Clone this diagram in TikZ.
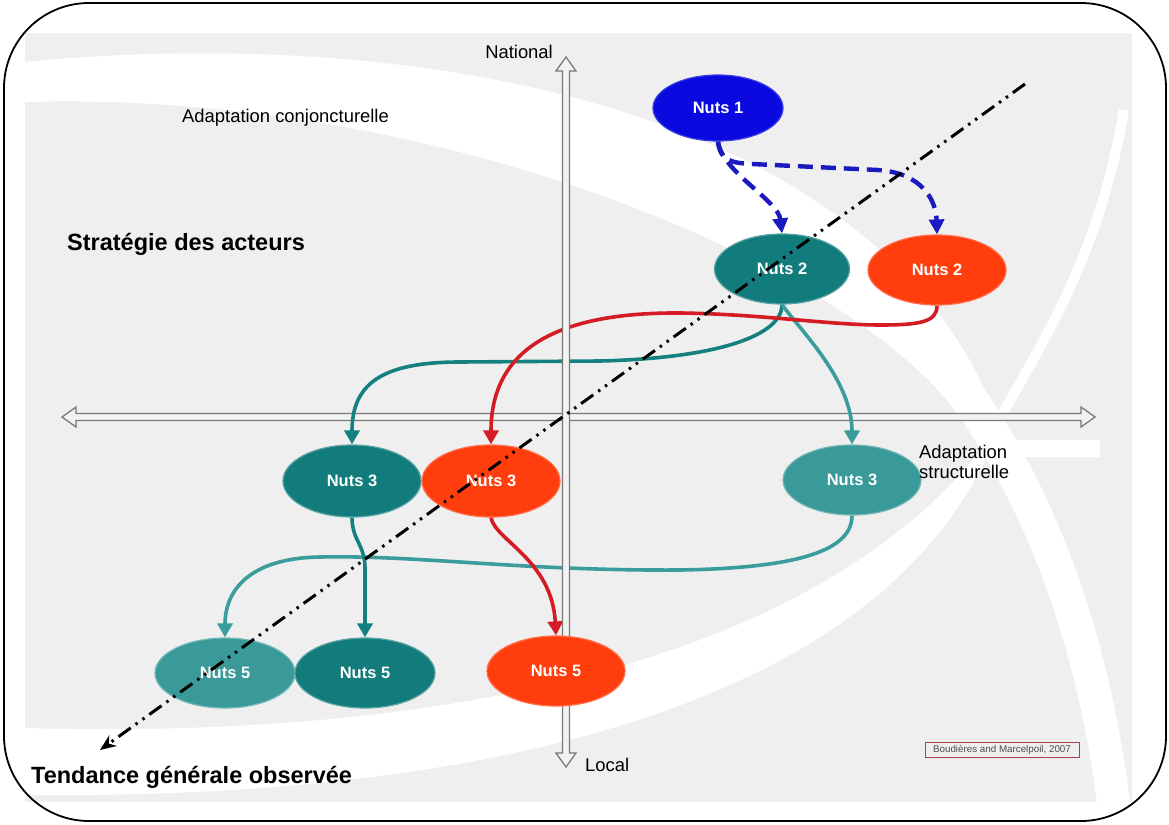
\documentclass[tikz,border=0pt]{standalone}
\usepackage{fontspec}
\setmainfont{Liberation Sans}
\usetikzlibrary{shapes.geometric,arrows.meta}

\definecolor{bggray}{HTML}{EFEFEF}
\definecolor{axisgray}{HTML}{7A7A7A}
\definecolor{axisfill}{HTML}{F2F2F2}
\definecolor{tealD}{HTML}{127C7C}
\definecolor{tealL}{HTML}{3A9999}
\definecolor{orng}{HTML}{FF3D0D}
\definecolor{blu}{HTML}{0A0AE0}
\definecolor{bluline}{HTML}{1A1AC0}
\definecolor{redline}{HTML}{D41C24}
\definecolor{tealline}{HTML}{14807F}
\definecolor{teallineL}{HTML}{3A9C9B}
\definecolor{refbox}{HTML}{B04050}

\pgfdeclarelayer{back}
\pgfdeclarelayer{haxis}
\pgfdeclarelayer{links}
\pgfdeclarelayer{vaxis}
\pgfdeclarelayer{front}
\pgfsetlayers{back,haxis,links,vaxis,main,front}

\begin{document}
\begin{tikzpicture}[x=1pt,y=-1pt,
  nuts/.style={ellipse, minimum width=138pt, minimum height=70pt, inner sep=0pt,
    text=white, font=\bfseries\fontsize{16.5}{18}\selectfont, line width=1.2pt},
  tealnode/.style={nuts, fill=tealD, draw=tealD!70!white},
  teallight/.style={nuts, fill=tealL, draw=tealL!70!white},
  orangenode/.style={nuts, fill=orng, draw=orng!75!white},
  bluenode/.style={nuts, fill=blu, draw=blu!80!white},
  lbl/.style={inner sep=0pt, font=\fontsize{18.4}{20}\selectfont},
  title/.style={inner sep=0pt, font=\bfseries\fontsize{23.5}{26}\selectfont},
  link/.style={line width=3.6pt, -{Triangle[length=14pt,width=15pt]}},
  teallink/.style={link, tealline},
  teallinkL/.style={link, teallineL},
  redlink/.style={link, redline},
  bluelink/.style={line width=4.4pt, bluline, dash pattern=on 15pt off 8pt,
    -{Triangle[length=15pt,width=15pt]}},
  trend/.style={line width=3pt, black,
    dash pattern=on 15pt off 6pt on 2.5pt off 6pt on 2.5pt off 6pt,
    -{Stealth[length=16pt,width=13pt]}},
  axisshape/.style={fill=axisfill, draw=axisgray, line width=1.3pt, line join=miter}
]
\useasboundingbox (0,0) rectangle (1169,824);

% ---- background panel with white swooshes ----
\begin{pgfonlayer}{back}
  \fill[bggray] (25,33) rectangle (1132,802);
  % upper sweep, falling to the lower right
  \fill[white] (25,62) .. controls (400,25) and (850,100) .. (985,390)
     .. controls (1060,500) and (1110,640) .. (1130,802)
     -- (1097,802) .. controls (1077,650) and (1030,520) .. (962,420)
     .. controls (860,270) and (450,90) .. (25,102) -- cycle;
  % lower sweep, rising to the right
  \fill[white] (25,728) .. controls (450,740) and (850,660) .. (1010,410)
     -- (1000,425) .. controls (900,700) and (500,800) .. (25,795) -- cycle;
  % thin arc towards the upper right
  \draw[white, line width=10pt] (1000,418) .. controls (1050,330) and (1100,250) .. (1124,110);
  % white strip behind the right-hand label
  \fill[white] (1013,440) rectangle (1100,457);
\end{pgfonlayer}

% ---- frame ----
\draw[line width=1.8pt, rounded corners=85pt] (4,3) rectangle (1166,821);

% ---- axes (hollow double-headed arrows) ----
\begin{pgfonlayer}{haxis}
  \draw[axisshape] (62,417) -- (76,407) -- (76,413.5) -- (1081,413.5) -- (1081,407)
     -- (1095,417) -- (1081,427) -- (1081,420.5) -- (76,420.5) -- (76,427) -- cycle;
\end{pgfonlayer}
\begin{pgfonlayer}{vaxis}
  \draw[axisshape] (566,57) -- (576,71) -- (569.5,71) -- (569.5,753) -- (576,753)
     -- (566,767) -- (556,753) -- (562.5,753) -- (562.5,71) -- (556,71) -- cycle;
\end{pgfonlayer}

% ---- NUTS levels ----
\node[bluenode, minimum width=130pt, minimum height=66pt] (n1) at (718,108) {Nuts 1};
\node[tealnode, minimum width=135pt] (n2a) at (782,269) {Nuts 2};
\node[orangenode] (n2b) at (937,270) {Nuts 2};
\node[tealnode, minimum height=72pt] (n3a) at (352,481) {Nuts 3};
\node[orangenode, minimum height=72pt] (n3b) at (491,481) {Nuts 3};
\node[teallight] (n3c) at (852,480) {Nuts 3};
\node[teallight, minimum width=140pt] (n5a) at (225,673) {Nuts 5};
\node[tealnode, minimum width=140pt] (n5b) at (365,673) {Nuts 5};
\node[orangenode] (n5c) at (556,671) {Nuts 5};

% ---- connectors ----
\begin{pgfonlayer}{links}
  \draw[bluelink] (n1.south) .. controls (722,172) and (778,200) .. (n2a.north);
  \draw[bluelink] (n1.south) .. controls (720,160) and (730,163) .. (752,164)
     -- (878,170) .. controls (922,173) and (936,200) .. (n2b.north);
  \draw[teallink] (n2a.south) .. controls (782,335) and (720,358) .. (600,361)
     -- (460,362) .. controls (380,362) and (352,385) .. (n3a.north);
  \draw[teallinkL] (n2a.south) .. controls (800,330) and (852,380) .. (n3c.north);
  \draw[teallinkL] (n3c.south) .. controls (852,550) and (800,568) .. (680,570)
     .. controls (520,571) and (420,555) .. (320,557)
     .. controls (250,558) and (225,590) .. (n5a.north);
  \draw[teallink] (n3a.south) .. controls (352,540) and (365,545) .. (365,568) -- (n5b.north);
  \draw[redlink] (n2b.south) .. controls (937,322) and (920,325) .. (880,325)
     .. controls (830,325) and (760,314) .. (680,313)
     .. controls (540,312) and (491,360) .. (n3b.north);
  \draw[redlink] (n3b.south) .. controls (495,540) and (552,560) .. (n5c.north);
\end{pgfonlayer}

% ---- general trend ----
\coordinate (ttop) at (1025,84);
\coordinate (tbot) at (100,750);
\begin{pgfonlayer}{front}
  \draw[trend] (ttop) -- (tbot);
\end{pgfonlayer}

% ---- labels ----
\node[lbl, anchor=base east] (national) at (553,59) {National};
\node[lbl, anchor=base west] (local) at (585,771) {Local};
\node[lbl, anchor=base west] (conj) at (182,123) {Adaptation conjoncturelle};
\node[lbl, anchor=north west, align=left] (struct) at (919,444.5) {Adaptation\\structurelle};
\node[title, anchor=base west] (strat) at (67,250) {Stratégie des acteurs};
\node[title, anchor=base west] (tend) at (31,783) {Tendance générale observée};
\node[draw=refbox, line width=1pt, fill=bggray, text=black!70, inner sep=1.5pt,
      minimum width=154pt, minimum height=15pt,
      font=\fontsize{9.8}{10}\selectfont] (source) at (1002,750) {Boudières and Marcelpoil, 2007};
\end{tikzpicture}
\end{document}
